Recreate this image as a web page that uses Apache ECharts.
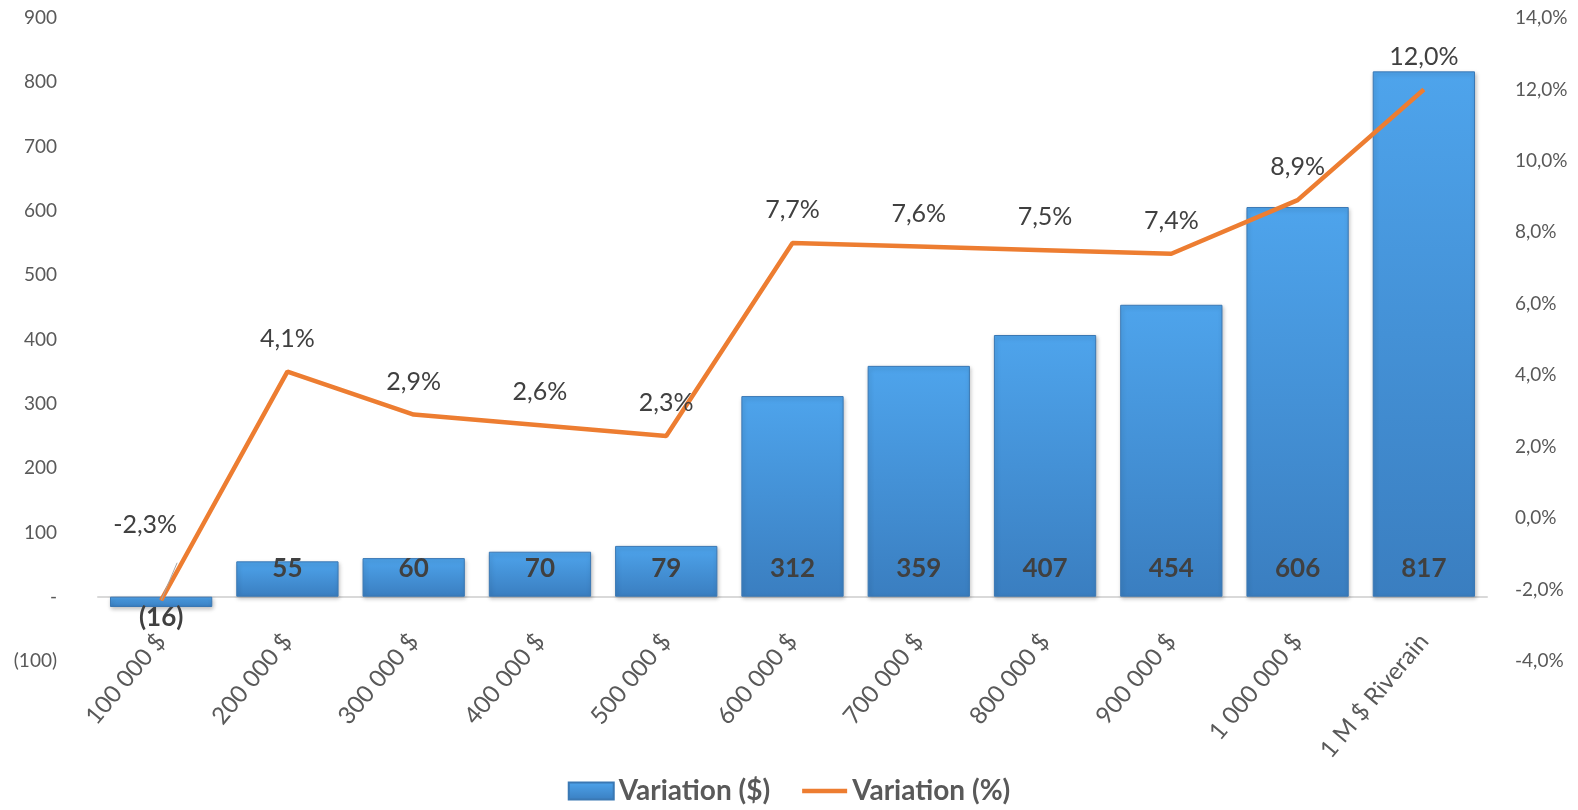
<!DOCTYPE html>
<html>
<head>
<meta charset="utf-8">
<script src="https://cdn.jsdelivr.net/npm/echarts@6/dist/echarts.min.js"></script>
<style>
  html, body { margin: 0; padding: 0; background: #fff; }
  #main { width: 1578px; height: 810px; }
</style>
</head>
<body>
<div id="main"></div>
<script>
// 数据
let categories = ['100 000 $', '200 000 $', '300 000 $', '400 000 $', '500 000 $', '600 000 $',
    '700 000 $', '800 000 $', '900 000 $', '1 000 000 $', '1 M $ Riverain']
let variationDollar = [-16, 55, 60, 70, 79, 312, 359, 407, 454, 606, 817]
let variationPct = [-2.3, 4.1, 2.9, 2.6, 2.3, 7.7, 7.6, 7.5, 7.4, 8.9, 12.0]

let ele = echarts.init(document.getElementById('main'))
let fontFam = 'Lato, "Open Sans", sans-serif'

let barGrad = new echarts.graphic.LinearGradient(0, 0, 0, 1, [
    { offset: 0, color: '#4ea4ec' },
    { offset: 1, color: '#3a7ec0' }
])

let barData = variationDollar.map(v => {
    if (v < 0) {
        return { value: v, label: { position: 'bottom', distance: -2 } }
    }
    return v
})

// -2,3% 的标签往上挪，加一条引导线
let lineData = variationPct.map((v, i) => {
    if (i === 0) {
        return {
            value: v,
            label: { offset: [-16, -42] },
            labelLine: { show: true, lineStyle: { color: '#a6a6a6', width: 1 } }
        }
    }
    return v
})

const option = {
    textStyle: { fontFamily: fontFam },
    grid: { left: 98, right: 91, top: 18, bottom: 149 },
    legend: {
        bottom: 0,
        left: 'center',
        itemGap: 32,
        itemWidth: 45,
        itemHeight: 17,
        textStyle: { fontSize: 28, fontWeight: 'bold', color: '#595959', fontFamily: fontFam },
        data: [
            { name: 'Variation ($)', icon: 'rect' },
            { name: 'Variation (%)', icon: 'path://M0,0L100,0L100,10L0,10Z' }
        ]
    },
    xAxis: {
        type: 'category',
        data: categories,
        axisLine: { onZero: true, lineStyle: { color: '#d9d9d9', width: 2 } },
        axisTick: { show: false },
        axisLabel: {
            rotate: 50,
            interval: 0,
            margin: -24,
            fontSize: 24,
            color: '#595959',
            fontFamily: fontFam
        }
    },
    yAxis: [
        {
            type: 'value',
            min: -100,
            max: 900,
            interval: 100,
            splitLine: { show: false },
            axisLine: { show: false },
            axisTick: { show: false },
            axisLabel: {
                margin: 41,
                fontSize: 19,
                color: '#595959',
                fontFamily: fontFam,
                formatter: function (v) {
                    if (v === 0) return '-'
                    if (v < 0) return '(' + Math.abs(v) + ')'
                    return v
                }
            }
        },
        {
            type: 'value',
            min: -4,
            max: 14,
            interval: 2,
            splitLine: { show: false },
            axisLine: { show: false },
            axisTick: { show: false },
            axisLabel: {
                margin: 28,
                fontSize: 19,
                color: '#595959',
                fontFamily: fontFam,
                formatter: function (v) {
                    return v.toFixed(1).replace('.', ',') + '%'
                }
            }
        }
    ],
    series: [
        {
            name: 'Variation ($)',
            type: 'bar',
            barWidth: '81%',
            data: barData,
            itemStyle: {
                color: barGrad,
                borderColor: '#3a78b4',
                borderWidth: 1,
                shadowColor: 'rgba(0,0,0,0.25)',
                shadowBlur: 4,
                shadowOffsetX: 1,
                shadowOffsetY: 2
            },
            label: {
                show: true,
                position: 'insideBottom',
                distance: 15,
                fontSize: 26,
                fontWeight: 'bold',
                color: '#404040',
                fontFamily: fontFam,
                formatter: function (p) {
                    return p.value < 0 ? '(' + Math.abs(p.value) + ')' : p.value
                }
            }
        },
        {
            name: 'Variation (%)',
            type: 'line',
            yAxisIndex: 1,
            data: lineData,
            symbol: 'circle',
            symbolSize: 1,
            lineStyle: { color: '#ed7d31', width: 4.5 },
            itemStyle: { color: '#ed7d31' },
            label: {
                show: true,
                position: 'top',
                distance: 20,
                fontSize: 25,
                color: '#404040',
                fontFamily: fontFam,
                formatter: function (p) {
                    return p.value.toFixed(1).replace('.', ',') + '%'
                }
            }
        }
    ]
}
ele.setOption(option)
</script>
</body>
</html>
